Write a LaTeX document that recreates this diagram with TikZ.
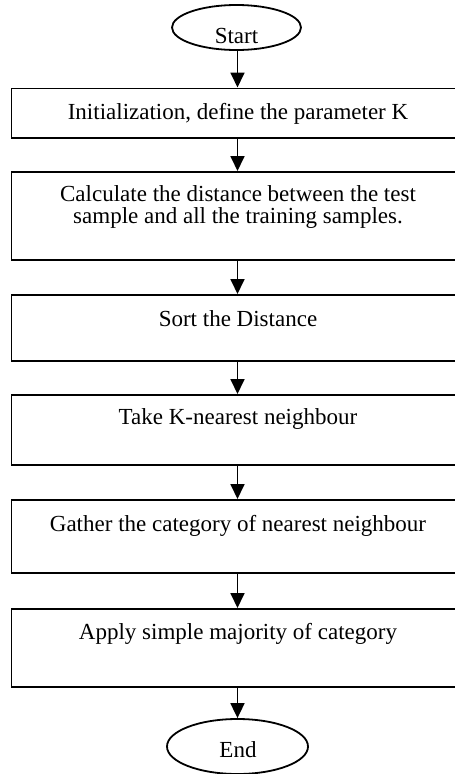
\documentclass[tikz,border=0pt]{standalone}
\usepackage{fontspec}
\setmainfont{Liberation Serif}
\usetikzlibrary{arrows.meta,shapes.geometric}
\begin{document}
\begin{tikzpicture}[x=1pt,y=-1pt,
  line width=1.8pt,
  every node/.style={font=\fontsize{23}{22}\selectfont},
  stepbox/.style={draw, rectangle, inner sep=0pt, minimum width=500pt, anchor=north west},
  term/.style={draw, ellipse, inner sep=0pt},
  txt/.style={anchor=base, inner sep=0pt, align=center},
  arr/.style={-{Triangle[width=14pt,length=15pt]}, line width=1.8pt}]
\useasboundingbox (0,0) rectangle (455,774);
\coordinate (ax) at (237.5,0);
% terminals
\node[term, minimum width=129pt, minimum height=45pt] (st) at (236.5,27.5) {};
\node[txt] (stt) at (236.5,43) {Start};
\node[term, minimum width=141pt, minimum height=55pt] (en) at (237.5,746.5) {};
\node[txt] (ent) at (238,757) {End};
% boxes
\node[stepbox, minimum height=49.5pt] (b1) at (10.5,87.5) {};
\node[txt] (t1) at (238,119) {Initialization, define the parameter K};
\node[stepbox, minimum height=88pt] (b2) at (10.5,171) {};
\node[txt] (t2a) at (238,201) {Calculate the distance between the test};
\node[txt] (t2b) at (238,223) {sample and all the training samples.};
\node[stepbox, minimum height=66pt] (b3) at (10.5,294) {};
\node[txt] (t3) at (238,326) {Sort the Distance};
\node[stepbox, minimum height=70pt] (b4) at (10.5,394) {};
\node[txt] (t4) at (238,424) {Take K-nearest neighbour};
\node[stepbox, minimum height=73pt] (b5) at (10.5,499) {};
\node[txt] (t5) at (238,531) {Gather the category of nearest neighbour};
\node[stepbox, minimum height=78pt] (b6) at (10.5,608) {};
\node[txt] (t6) at (238,639) {Apply simple majority of category};
% connectors
\draw[arr] (st.south -| ax) -- (b1.north -| ax);
\draw[arr] (b1.south -| ax) -- (b2.north -| ax);
\draw[arr] (b2.south -| ax) -- (b3.north -| ax);
\draw[arr] (b3.south -| ax) -- (b4.north -| ax);
\draw[arr] (b4.south -| ax) -- (b5.north -| ax);
\draw[arr] (b5.south -| ax) -- (b6.north -| ax);
\draw[arr] (b6.south -| ax) -- (en.north -| ax);
\end{tikzpicture}
\end{document}
